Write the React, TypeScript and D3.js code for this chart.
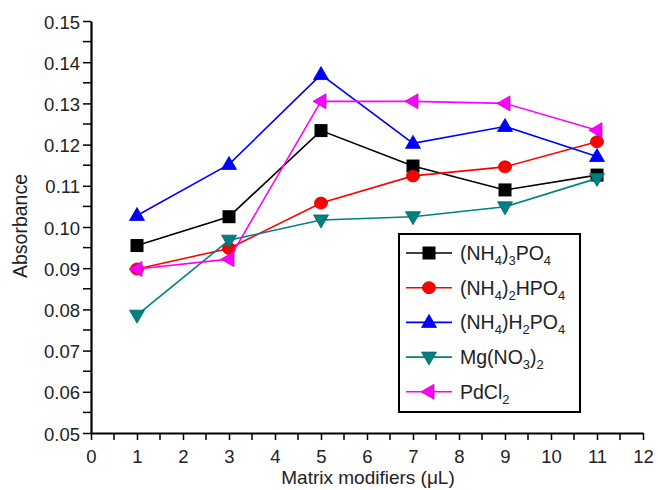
import React, { useRef, useEffect } from 'react';
import * as d3 from 'd3';

const doses = [1, 3, 5, 7, 9, 11];
const nh4_3po4 = [0.0955, 0.1025, 0.1234, 0.1148, 0.109, 0.1126];
const nh4_2hpo4 = [0.0898, 0.0948, 0.1058, 0.1124, 0.1146, 0.1207];
const nh4h2po4 = [0.1028, 0.1152, 0.137, 0.1203, 0.1244, 0.1171];
const mgno3 = [0.0786, 0.0968, 0.1017, 0.1025, 0.1049, 0.1118];
const pdcl2 = [0.0898, 0.0922, 0.1305, 0.1305, 0.13, 0.1235];
const xTickLabels = d3.range(0, 13);
const yTickLabels = [0.05, 0.06, 0.07, 0.08, 0.09, 0.1, 0.11, 0.12, 0.13, 0.14, 0.15];

// label parts: [text, isSubscript]
const series = [
  { name: [['(NH', 0], ['4', 1], [')', 0], ['3', 1], ['PO', 0], ['4', 1]], values: nh4_3po4, color: '#000000', marker: 'square' },
  { name: [['(NH', 0], ['4', 1], [')', 0], ['2', 1], ['HPO', 0], ['4', 1]], values: nh4_2hpo4, color: '#ff0000', marker: 'circle' },
  { name: [['(NH', 0], ['4', 1], [')H', 0], ['2', 1], ['PO', 0], ['4', 1]], values: nh4h2po4, color: '#0000ff', marker: 'up' },
  { name: [['Mg(NO', 0], ['3', 1], [')', 0], ['2', 1]], values: mgno3, color: '#008080', marker: 'down' },
  { name: [['PdCl', 0], ['2', 1]], values: pdcl2, color: '#ff00ff', marker: 'left' },
];

const FONT = 'Liberation Sans, Arial, sans-serif';
const TXT = '#222';

const markerPath = (type) => {
  if (type === 'up') return 'M0,-8L7.5,5L-7.5,5Z';
  if (type === 'down') return 'M0,8L7.5,-5L-7.5,-5Z';
  if (type === 'left') return 'M-8,0L5,-7.5L5,7.5Z';
  return null;
};

const drawMarker = (g, type, color, x, y) => {
  if (type === 'square') {
    g.append('rect').attr('x', x - 6.5).attr('y', y - 6.5).attr('width', 13).attr('height', 13)
      .attr('fill', color);
  } else if (type === 'circle') {
    g.append('ellipse').attr('cx', x).attr('cy', y).attr('rx', 6.5).attr('ry', 6)
      .attr('fill', color).attr('stroke', '#c00000').attr('stroke-width', 0.8);
  } else {
    g.append('path').attr('d', markerPath(type)).attr('transform', `translate(${x},${y})`)
      .attr('fill', color).attr('stroke', d3.color(color).darker(0.6)).attr('stroke-width', 0.8);
  }
};

const Chart = () => {
  const ref = useRef(null);

  useEffect(() => {
    const svg = d3.select(ref.current);
    svg.selectAll('*').remove();

    const x = d3.scaleLinear().domain([0, 12]).range([91, 643]);
    const y = d3.scaleLinear().domain([0.05, 0.15]).range([433, 21]);

    // y axis
    const yAxis = svg.append('g').attr('transform', 'translate(91,0)')
      .call(d3.axisLeft(y).tickValues(yTickLabels).tickFormat(d3.format('.2f')).tickSize(8).tickSizeOuter(0));
    yAxis.select('.domain').attr('stroke-width', 2.2);
    yAxis.selectAll('.tick line').attr('stroke-width', 1.5);
    yAxis.selectAll('text').attr('font-family', FONT).attr('font-size', 18.5).attr('fill', TXT)
      .attr('x', -11).attr('dy', '0.38em');
    svg.append('g').selectAll('line').data(d3.range(0.055, 0.15, 0.01)).join('line')
      .attr('x1', 83).attr('x2', 91).attr('y1', (d) => y(d)).attr('y2', (d) => y(d))
      .attr('stroke', '#000').attr('stroke-width', 1.5);

    // x axis
    const xAxis = svg.append('g').attr('transform', 'translate(0,433)')
      .call(d3.axisBottom(x).tickValues(xTickLabels).tickFormat(d3.format('d')).tickSize(7).tickSizeOuter(0));
    xAxis.select('.domain').attr('stroke-width', 2.2);
    xAxis.selectAll('.tick line').attr('stroke-width', 1.5);
    xAxis.selectAll('text').attr('font-family', FONT).attr('font-size', 18.5).attr('fill', TXT).attr('y', 17);
    svg.append('g').selectAll('line').data(d3.range(0.5, 12, 1)).join('line')
      .attr('x1', (d) => x(d)).attr('x2', (d) => x(d)).attr('y1', 433).attr('y2', 440)
      .attr('stroke', '#000').attr('stroke-width', 1.5);

    // titles
    svg.append('text').attr('x', 368).attr('y', 484).attr('text-anchor', 'middle')
      .attr('font-family', FONT).attr('font-size', 19).attr('fill', TXT).text('Matrix modifiers (\u03bcL)');
    svg.append('text').attr('transform', 'translate(27,226) rotate(-90)').attr('text-anchor', 'middle')
      .attr('font-family', FONT).attr('font-size', 19.5).attr('fill', TXT).text('Absorbance');

    // series
    const line = d3.line().x((d) => x(d[0])).y((d) => y(d[1]));
    series.forEach((s) => {
      const pts = doses.map((d, i) => [d, s.values[i]]);
      const g = svg.append('g');
      g.append('path').attr('d', line(pts)).attr('fill', 'none').attr('stroke', s.color).attr('stroke-width', 1.6);
      pts.forEach((p) => drawMarker(g, s.marker, s.color, x(p[0]), y(p[1])));
    });

    // legend
    const lg = svg.append('g');
    lg.append('rect').attr('x', 399).attr('y', 234).attr('width', 181).attr('height', 178)
      .attr('fill', '#fff').attr('stroke', '#000').attr('stroke-width', 2);
    series.forEach((s, i) => {
      const cy = 253 + i * 34.7;
      lg.append('line').attr('x1', 406).attr('x2', 452).attr('y1', cy).attr('y2', cy)
        .attr('stroke', s.color).attr('stroke-width', 1.6);
      drawMarker(lg, s.marker, s.color, 429, cy);
      const t = lg.append('text').attr('x', 460).attr('y', cy + 7)
        .attr('font-family', FONT).attr('font-size', 19.5).attr('fill', TXT);
      s.name.forEach(([txt, sub], j) => {
        const prevSub = j > 0 ? s.name[j - 1][1] : 0;
        const dy = sub && !prevSub ? 5 : !sub && prevSub ? -5 : 0;
        t.append('tspan').attr('dy', dy).attr('font-size', sub ? 13 : 19.5).text(txt);
      });
    });
  }, []);

  return <svg ref={ref} width={658} height={490} style={{ display: 'block', background: '#fff' }} />;
};

export default function App() {
  return (
    <div style={{ position: 'absolute', left: 0, top: 0 }}>
      <Chart />
    </div>
  );
}
